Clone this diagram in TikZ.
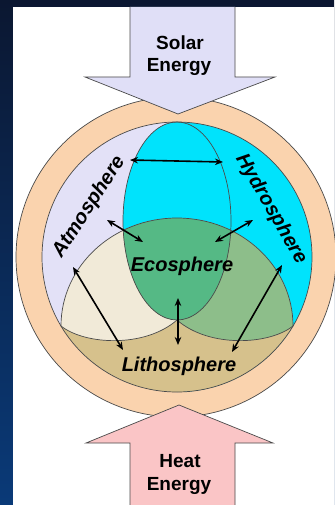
\documentclass[tikz,border=0pt]{standalone}
\usepackage{fontspec}
\setmainfont{Liberation Sans}
\usetikzlibrary{arrows.meta}
\definecolor{bgtop}{HTML}{0B1731}
\definecolor{bgbot}{HTML}{0A3A78}
\definecolor{peach}{HTML}{FAD3AE}
\definecolor{lav}{HTML}{E3E1F7}
\definecolor{cyanh}{HTML}{00E3FC}
\definecolor{tanc}{HTML}{D6C18C}
\definecolor{cream}{HTML}{F1EAD8}
\definecolor{dgreen}{HTML}{8DBE8A}
\definecolor{mgreen}{HTML}{55B985}
\definecolor{solarc}{HTML}{E0DFF7}
\definecolor{heatc}{HTML}{FAC5C6}
\definecolor{lineg}{HTML}{4A4A4A}
\begin{document}
\begin{tikzpicture}[x=1pt,y=-1pt,
  outl/.style={draw=lineg,line width=0.7pt},
  dbl/.style={<->,>={Stealth[length=8pt,width=6.5pt]},line width=1.6pt,draw=black},
  lbl/.style={font=\fontsize{20}{24}\selectfont\bfseries\itshape,inner sep=0pt},
  elbl/.style={font=\fontsize{19}{22}\selectfont\bfseries,inner sep=0pt}]
\useasboundingbox (0,0) rectangle (334,505);
\shade[top color=bgtop,bottom color=bgbot] (0,0) rectangle (334,505);
\fill[white] (13,7) rectangle (334,505);
% outer ring
\draw[outl,fill=peach] (176,257) circle[radius=160pt];
\fill[lav] (177,257) circle[radius=135pt];
\begin{scope}
\clip (177,257) circle[radius=135pt];
\fill[cyanh] (177,122) arc[start angle=90,end angle=270,x radius=54pt,y radius=99pt] -- (177,420) -- (330,420) -- (330,100) -- cycle;
\fill[tanc] (0,326) -- (150,326) -- (177,316) -- (204,326) -- (334,326) -- (334,420) -- (0,420) -- cycle;
\end{scope}
% ecosphere composite
\begin{scope}
\clip (61,326) arc[start angle=180,end angle=0,x radius=116pt,y radius=108pt] .. controls (269,345) and (209,348) .. (177,320) .. controls (145,348) and (85,345) .. (61,326) -- cycle;
\fill[cream] (0,200) rectangle (334,360);
\fill[dgreen] (177,122) arc[start angle=90,end angle=270,x radius=54pt,y radius=99pt] -- (177,420) -- (330,420) -- (330,100) -- cycle;
\fill[mgreen] (177,221) ellipse[x radius=54pt,y radius=99pt];
\end{scope}
\draw[outl] (61,326) arc[start angle=180,end angle=0,x radius=116pt,y radius=108pt] .. controls (269,345) and (209,348) .. (177,320) .. controls (145,348) and (85,345) .. (61,326) -- cycle;
\draw[outl] (177,221) ellipse[x radius=54pt,y radius=99pt];
\draw[outl] (177,257) circle[radius=135pt];
% arrows
\coordinate (a1s) at (130,160); \coordinate (a1e) at (223,162);
\coordinate (a2s) at (107,220); \coordinate (a2e) at (143,242);
\coordinate (a3s) at (253,220); \coordinate (a3e) at (215,242);
\coordinate (a4s) at (73,267);  \coordinate (a4e) at (123,350);
\coordinate (a5s) at (282,265); \coordinate (a5e) at (232,352);
\coordinate (a6s) at (178,298); \coordinate (a6e) at (178,345);
\draw[dbl] (a1s) -- (a1e);
\draw[dbl] (a2s) -- (a2e);
\draw[dbl] (a3s) -- (a3e);
\draw[dbl] (a4s) -- (a4e);
\draw[dbl] (a5s) -- (a5e);
\draw[dbl] (a6s) -- (a6e);
% labels
\node[lbl,anchor=base] (eco) at (182,271.7) {Ecosphere};
\node[lbl,anchor=base] (lith) at (179,371.7) {Lithosphere};
\node[lbl,rotate=57] (atm) at (89,207) {Atmosphere};
\node[lbl,rotate=-60] (hyd) at (271,209) {Hydrosphere};
% solar arrow
\fill[solarc] (130,7) -- (235,7) -- (235,77) -- (275,77) -- (178,114) -- (85,77) -- (130,77) -- cycle;
\draw[outl] (130,7) -- (130,77) -- (85,77) -- (178,114) -- (275,77) -- (235,77) -- (235,7);
\node[elbl,anchor=base] (sol1) at (180,49.3) {Solar};
\node[elbl,anchor=base] (sol2) at (179,71.7) {Energy};
% heat arrow
\fill[heatc] (130,505) -- (130,443) -- (86,443) -- (179,405) -- (273,443) -- (235,443) -- (235,505) -- cycle;
\draw[outl] (130,505) -- (130,443) -- (86,443) -- (179,405) -- (273,443) -- (235,443) -- (235,505);
\node[elbl,anchor=base] (heat1) at (180,467.7) {Heat};
\node[elbl,anchor=base] (heat2) at (179,490.7) {Energy};
\end{tikzpicture}
\end{document}
